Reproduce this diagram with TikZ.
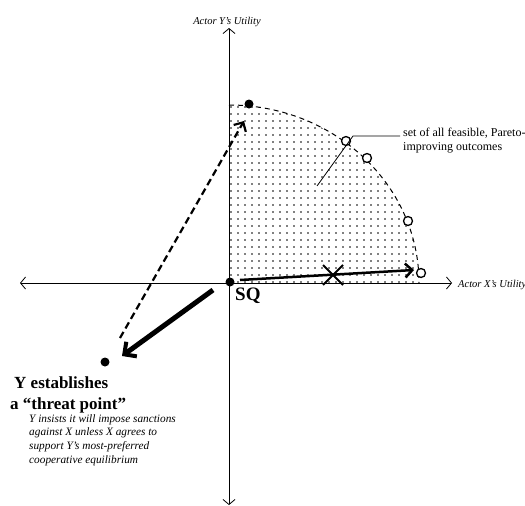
\documentclass[tikz,border=0pt]{standalone}
\usepackage{fontspec}
\setmainfont{Liberation Serif}
\usetikzlibrary{arrows.meta, patterns.meta, positioning}
\tikzstyle{axis} = [line width=0.8pt, {Straight Barb[length=5pt,width=12pt]}-{Straight Barb[length=5pt,width=12pt]}]
\tikzstyle{dot} = [circle, fill=black, inner sep=0pt, minimum size=9pt]
\tikzstyle{opendot} = [circle, draw=black, fill=white, line width=1.3pt, inner sep=0pt, minimum size=9pt]
\tikzstyle{bigarrow} = [line width=2.5pt, -{Straight Barb[length=7pt,width=14pt,line width=2.5pt]}]
\tikzstyle{axislabel} = [font=\fontsize{10.5}{12}\selectfont\itshape, inner sep=0pt]

\begin{document}
\begin{tikzpicture}[x=1pt, y=-1pt]
\useasboundingbox (0,0) rectangle (525,506);

% feasible region
\fill[pattern={Dots[distance=7pt, radius=0.8pt]}] (229,283) -- (229,105) arc[start angle=-90, end angle=0, x radius=190, y radius=178] -- cycle;
\draw[dashed, line width=1pt, dash pattern=on 5pt off 4pt] (229,105) arc[start angle=-90, end angle=0, x radius=190, y radius=178];

% axes
\draw [axis] (20,283) -- (452,283);
\draw [axis] (229,505) -- (229,28);
\node (ylab) [axislabel, anchor=base] at (227,24) {Actor Y's Utility};
\node (xlab) [axislabel, anchor=base west] at (458,287) {Actor X's Utility};

% points
\node (sq) [dot] at (230,282) {};
\node (threat) [dot] at (105,362) {};
\node (ybest) [dot] at (249,104) {};
\node (p1) [opendot] at (346,141) {};
\node (p2) [opendot] at (367,158) {};
\node (p3) [opendot] at (408,221) {};
\node (p4) [opendot] at (421,273) {};
\node (sqlab) [anchor=base west, inner sep=0pt, font=\fontsize{19}{22}\selectfont\bfseries] at (235,300) {SQ};

% moves
\coordinate (a1) at (213,290);
\coordinate (a2) at (122,356);
\draw [line width=5pt, -{Straight Barb[length=9pt,width=18pt,line width=4pt]}] (a1) -- (a2);
\coordinate (d1) at (120,338);
\coordinate (d2) at (244,121);
\draw [line width=2.2pt, dash pattern=on 7pt off 4pt, -{Straight Barb[length=7pt,width=14pt,line width=2.2pt]}] (d1) -- (d2);
\coordinate (r1) at (240,280);
\coordinate (r2) at (414,270);
\draw [bigarrow] (r1) -- (r2);

% the cross
\coordinate (xc) at (333,275);
\draw [line width=2pt] ([shift={(-10,-10)}]xc) -- ([shift={(10,10)}]xc);
\draw [line width=2pt] ([shift={(10,-10)}]xc) -- ([shift={(-10,10)}]xc);

% labels (base = last line)
\node (setlab) [anchor=base west, align=left, inner sep=0pt, font=\fontsize{12}{14}\selectfont] at (403,150) {set of all feasible, Pareto-\\improving outcomes};
\coordinate (lead) at (317,186);
\draw [line width=0.8pt] (lead) -- (353,136) -- (400,136);

\node (threatlab) [anchor=base west, align=left, inner sep=0pt, font=\fontsize{17}{21}\selectfont\bfseries] at (10,409) {\hspace{4pt}Y establishes\\a “threat point”};
\node (threattxt) [anchor=base west, align=left, inner sep=0pt, font=\fontsize{11.3}{13.6}\selectfont\itshape] at (29,463) {Y insists it will impose sanctions\\against X unless X agrees to\\support Y's most-preferred\\cooperative equilibrium};
\end{tikzpicture}
\end{document}
